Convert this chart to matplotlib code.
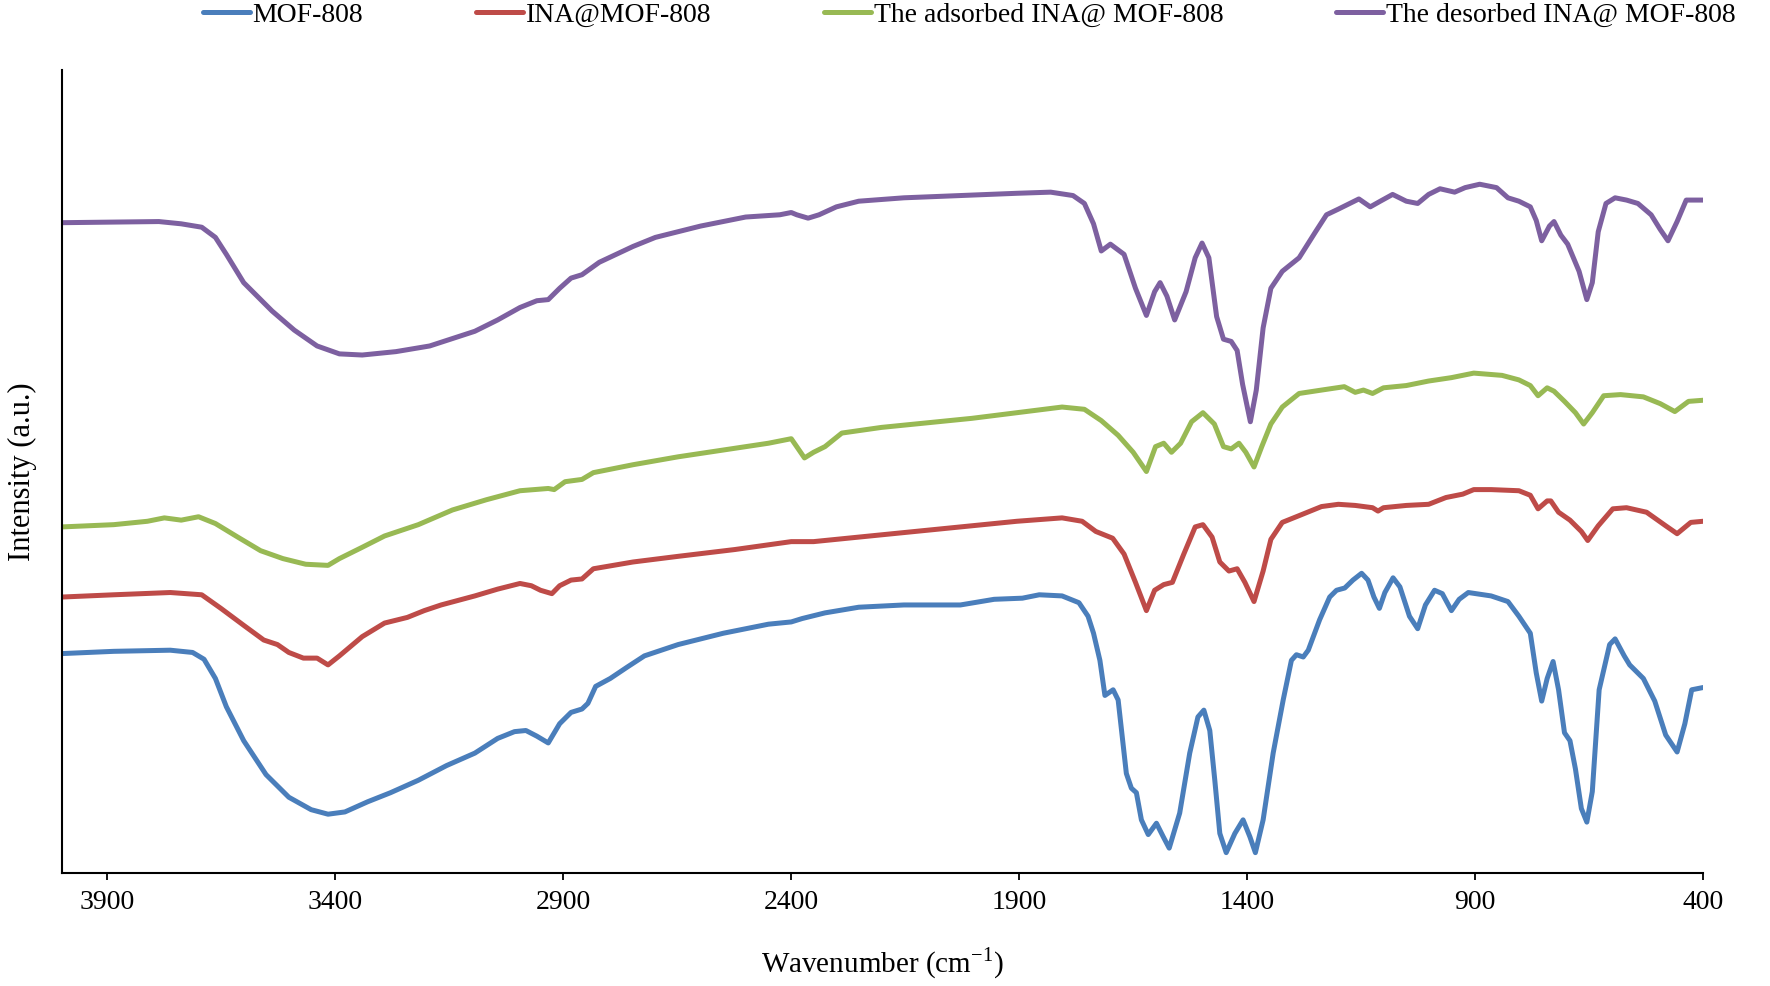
import matplotlib
matplotlib.use("Agg")
import matplotlib.pyplot as plt

plt.rcParams["font.family"] = ["Liberation Serif", "DejaVu Serif"]
plt.rcParams["mathtext.fontset"] = "custom"
plt.rcParams["mathtext.rm"] = "Liberation Serif"

# FTIR spectra, wavenumber (cm-1) vs intensity (a.u., offset as in the figure)
wn_mof = [4000, 3886, 3762, 3713, 3688, 3663, 3639, 3601, 3552, 3502, 3453, 3416, 3379, 3329,
          3279, 3218, 3156, 3094, 3044, 3007, 2982, 2958, 2933, 2908, 2883, 2859, 2846, 2829,
          2797, 2760, 2722, 2648, 2549, 2450, 2400, 2376, 2326, 2252, 2153, 2029, 1955, 1893,
          1856, 1806, 1769, 1749, 1737, 1723, 1712, 1694, 1683, 1665, 1654, 1643, 1632, 1617,
          1599, 1584, 1571, 1548, 1526, 1508, 1495, 1482, 1471, 1460, 1446, 1427, 1409, 1394,
          1382, 1365, 1343, 1321, 1303, 1292, 1277, 1266, 1241, 1219, 1204, 1186, 1168, 1149,
          1135, 1122, 1110, 1098, 1080, 1065, 1044, 1026, 1009, 989, 972, 952, 935, 915, 865,
          828, 804, 779, 766, 754, 742, 729, 717, 704, 692, 680, 667, 655, 643, 628, 605, 593,
          573, 561, 531, 506, 482, 457, 440, 425, 400]
int_mof = [19.4, 19.6, 19.7, 19.5, 18.9, 17.2, 14.7, 11.7, 8.7, 6.7, 5.6, 5.2, 5.4, 6.3,
           7.1, 8.2, 9.5, 10.6, 11.9, 12.5, 12.6, 12.1, 11.5, 13.2, 14.2, 14.5, 15.0, 16.5,
           17.2, 18.2, 19.2, 20.2, 21.2, 22.0, 22.2, 22.5, 23.0, 23.5, 23.7, 23.7, 24.2, 24.3,
           24.6, 24.5, 23.9, 22.7, 21.2, 18.8, 15.7, 16.2, 15.3, 8.8, 7.5, 7.1, 4.7, 3.4,
           4.4, 3.2, 2.2, 5.3, 10.6, 13.8, 14.4, 12.6, 8.2, 3.5, 1.8, 3.5, 4.7, 3.2,
           1.8, 4.7, 10.6, 15.3, 18.8, 19.3, 19.1, 19.7, 22.4, 24.4, 25.0, 25.2, 25.9, 26.5,
           25.9, 24.4, 23.4, 24.8, 26.1, 25.3, 22.7, 21.6, 23.7, 25.0, 24.7, 23.2, 24.2, 24.8, 24.5,
           24.0, 22.7, 21.2, 17.7, 15.2, 17.2, 18.7, 16.2, 12.4, 11.7, 9.2, 5.7, 4.5, 7.2, 16.2, 20.2, 20.7,
           19.2, 18.4, 17.2, 15.2, 12.2, 10.7, 13.2, 16.2, 16.4]

wn_ina = [4000, 3886, 3762, 3693, 3651, 3601, 3557, 3527, 3502, 3470, 3440, 3416, 3391, 3341,
          3292, 3242, 3205, 3168, 3094, 3044, 2995, 2970, 2950, 2925, 2908, 2883, 2859, 2834,
          2747, 2648, 2524, 2400, 2351, 2252, 2153, 2029, 1905, 1806, 1762, 1732, 1695, 1670,
          1645, 1621, 1603, 1583, 1564, 1539, 1514, 1497, 1477, 1460, 1440, 1422, 1405, 1385,
          1365, 1348, 1323, 1286, 1237, 1200, 1163, 1125, 1113, 1101, 1051, 1002, 964, 927,
          903, 865, 804, 779, 762, 742, 734, 717, 692, 667, 653, 630, 598, 568, 524, 482, 457,
          427, 400]
int_ina = [24.4, 24.6, 24.8, 24.6, 23.4, 21.9, 20.6, 20.2, 19.5, 19.0, 19.0, 18.4, 19.2, 20.9,
           22.1, 22.6, 23.2, 23.7, 24.5, 25.1, 25.6, 25.4, 25.0, 24.7, 25.4, 25.9, 26.0, 26.9,
           27.5, 28.0, 28.6, 29.3, 29.3, 29.7, 30.1, 30.6, 31.1, 31.4, 31.1, 30.2, 29.6, 28.2,
           25.7, 23.2, 25.0, 25.5, 25.7, 28.2, 30.6, 30.8, 29.7, 27.5, 26.7, 26.9, 25.7, 24.0,
           26.7, 29.5, 31.0, 31.6, 32.4, 32.6, 32.5, 32.3, 32.0, 32.3, 32.5, 32.6, 33.2, 33.5,
           33.9, 33.9, 33.8, 33.4, 32.2, 32.9, 32.9, 31.9, 31.2, 30.2, 29.4, 30.7, 32.2, 32.3, 31.9, 30.7, 30.0,
           31.0, 31.1]

wn_ads = [4000, 3886, 3812, 3775, 3738, 3700, 3663, 3614, 3564, 3515, 3465, 3416, 3391, 3341,
          3292, 3218, 3143, 3069, 2995, 2933, 2920, 2896, 2859, 2834, 2747, 2648, 2549, 2450,
          2400, 2388, 2371, 2351, 2326, 2289, 2202, 2103, 2004, 1905, 1806, 1757, 1720, 1683,
          1650, 1621, 1601, 1583, 1566, 1546, 1522, 1497, 1472, 1452, 1435, 1418, 1403, 1385,
          1368, 1348, 1323, 1286, 1237, 1187, 1163, 1145, 1125, 1101, 1051, 1002, 952, 903,
          841, 804, 779, 762, 742, 727, 704, 680, 662, 643, 618, 581, 531, 494, 462, 432, 400]
int_ads = [30.6, 30.8, 31.1, 31.4, 31.2, 31.5, 30.9, 29.7, 28.5, 27.8, 27.3, 27.2, 27.8, 28.8,
           29.8, 30.8, 32.1, 33.0, 33.8, 34.0, 33.9, 34.6, 34.8, 35.4, 36.1, 36.8, 37.4, 38.0,
           38.4, 37.7, 36.7, 37.2, 37.7, 38.9, 39.4, 39.8, 40.2, 40.7, 41.2, 41.0, 40.0, 38.7,
           37.2, 35.5, 37.7, 38.0, 37.2, 38.0, 39.9, 40.7, 39.7, 37.7, 37.5, 38.0, 37.2, 35.9,
           37.7, 39.7, 41.2, 42.4, 42.7, 43.0, 42.5, 42.7, 42.4, 42.9, 43.1, 43.5, 43.8, 44.2,
           44.0, 43.6, 43.1, 42.2, 42.9, 42.6, 41.7, 40.7, 39.7, 40.7, 42.2, 42.3, 42.1, 41.5, 40.8, 41.7, 41.8]

wn_des = [4000, 3787, 3738, 3693, 3663, 3639, 3601, 3539, 3490, 3440, 3391, 3341, 3267, 3193,
          3094, 3044, 2995, 2958, 2933, 2908, 2883, 2859, 2821, 2747, 2698, 2599, 2500, 2425,
          2400, 2388, 2363, 2339, 2301, 2252, 2153, 2029, 1905, 1831, 1782, 1757, 1737, 1720,
          1700, 1670, 1645, 1621, 1603, 1591, 1576, 1559, 1534, 1514, 1499, 1484, 1467, 1452,
          1435, 1422, 1410, 1393, 1380, 1365, 1348, 1323, 1286, 1250, 1226, 1200, 1175, 1155,
          1130, 1108, 1081, 1051, 1026, 1002, 977, 945, 922, 890, 853, 828, 804, 779, 766, 754,
          737, 727, 712, 697, 672, 655, 643, 630, 613, 593, 568, 543, 514, 494, 477, 457, 437, 400]
int_des = [57.5, 57.6, 57.4, 57.1, 56.2, 54.7, 52.2, 49.7, 48.0, 46.6, 45.9, 45.8, 46.1, 46.6,
           47.9, 48.9, 50.0, 50.6, 50.7, 51.7, 52.6, 52.9, 54.0, 55.4, 56.2, 57.2, 58.0, 58.2,
           58.4, 58.2, 57.9, 58.2, 58.9, 59.4, 59.7, 59.9, 60.1, 60.2, 59.9, 59.2, 57.4, 55.0,
           55.6, 54.7, 51.7, 49.3, 51.4, 52.2, 51.0, 48.9, 51.4, 54.4, 55.7, 54.4, 49.2, 47.2,
           47.0, 46.2, 43.2, 39.9, 42.7, 48.2, 51.7, 53.2, 54.4, 56.7, 58.2, 58.7, 59.2, 59.6,
           58.9, 59.4, 60.0, 59.4, 59.2, 60.0, 60.5, 60.2, 60.6, 60.9, 60.6, 59.7, 59.4, 58.9, 57.7, 55.9,
           57.2, 57.6, 56.4, 55.6, 53.2, 50.7, 52.2, 56.7, 59.2, 59.7, 59.5, 59.2, 58.2, 56.9, 55.9, 57.6, 59.5, 59.5]

labels = ["MOF-808", "INA@MOF-808", "The adsorbed INA@ MOF-808", "The desorbed INA@ MOF-808"]
colors = ["#4A7EBB", "#BE4B48", "#98B954", "#7D60A0"]
xticks = [3900, 3400, 2900, 2400, 1900, 1400, 900, 400]

fig = plt.figure(figsize=(17.7, 9.86), dpi=100)
ax = fig.add_axes([0.0349, 0.1146, 0.9273, 0.8144])

series = [(wn_mof, int_mof), (wn_ina, int_ina), (wn_ads, int_ads), (wn_des, int_des)]
for (wn, val), lab, col in zip(series, labels, colors):
    ax.plot(wn, val, color=col, lw=3.6, label=lab, solid_capstyle="round", solid_joinstyle="round")

ax.set_xlim(4000, 400)
ax.set_ylim(0, 71)
ax.set_xticks(xticks)
ax.set_xticklabels([str(t) for t in xticks])
ax.set_yticks([])
ax.tick_params(axis="x", direction="out", length=5, width=1.3, labelsize=20, pad=7)
for side in ["top", "right"]:
    ax.spines[side].set_visible(False)
for side in ["left", "bottom"]:
    ax.spines[side].set_linewidth(1.5)

ax.set_xlabel("Wavenumber (cm$^{-1}$)", fontsize=21, labelpad=22)
ax.set_ylabel("Intensity (a.u.)", fontsize=22, labelpad=18)

fig.legend(loc="center", bbox_to_anchor=(0.5475, 0.985), ncol=4, frameon=False, fontsize=20,
           handlelength=1.7, handletextpad=0.1, columnspacing=4.05)

fig.savefig("out.png", dpi=100)
